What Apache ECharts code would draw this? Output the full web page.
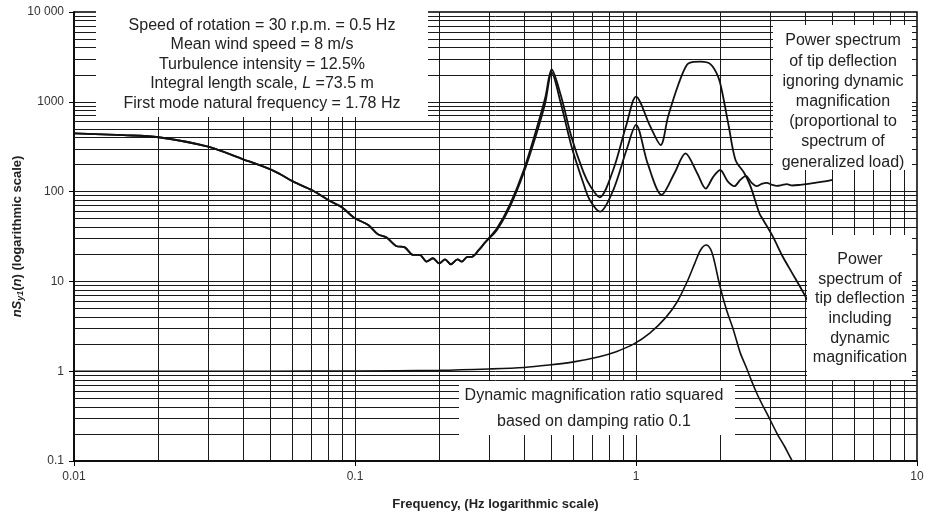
<!DOCTYPE html>
<html><head><meta charset="utf-8">
<script src="https://cdn.jsdelivr.net/npm/echarts@6/dist/echarts.min.js"></script>
<style>html,body{margin:0;padding:0;background:#fff}#c{width:927px;height:517px}</style>
</head><body><div id="c"></div>
<script>
// ---- data ----
const ignoringFreq = [0.01,0.015,0.02,0.03,0.04,0.05,0.054,0.0603,0.0702,0.0803,0.0898,0.1,0.1115,0.1206,0.1292,0.14,0.1504,0.1613,0.17,0.1797,0.1893,0.1995,0.2091,0.2194,0.2316,0.24,0.2512,0.2602,0.276,0.29,0.32,0.356,0.398,0.443,0.475,0.501,0.54,0.59,0.65,0.684,0.745,0.83,0.925,1.0,1.1,1.2336,1.37,1.5,1.65,1.77,1.88,1.993,2.12,2.24,2.35,2.46,2.58,2.69,2.8,2.92,3.05,3.17,3.3,3.44,3.6,3.84,4.1,4.38,4.7,5.0];
const ignoringVal = [446,425,403,316,229,177,157,129,104,80.6,66.8,50.4,42.5,33.4,31.0,24.8,23.9,19.7,19.7,16.6,18.1,15.9,17.6,15.5,17.6,16.6,18.8,18.8,22.4,27,37.4,67.9,160,446,962,2120,962,316,123,81,59.7,104,290,552,206,92,160,267,161,108,145,174,130,115,135,150,125,115,122,125,119,116,118,121,117,119,122,126,130,135];

const includingFreq = [0.01,0.015,0.02,0.03,0.04,0.05,0.054,0.0603,0.0702,0.0803,0.0898,0.1,0.1115,0.1206,0.1292,0.14,0.1504,0.1613,0.17,0.1797,0.1893,0.1995,0.2091,0.2194,0.2316,0.24,0.2512,0.2602,0.276,0.29,0.32,0.356,0.398,0.443,0.475,0.501,0.54,0.59,0.65,0.69,0.742,0.83,0.925,1.0,1.125,1.2236,1.3,1.42,1.5165,1.6,1.7,1.84,1.96,2.03,2.14,2.26,2.43,2.56,2.75,2.84,3.07,3.33,3.6,3.95,4.3];
const includingVal = [446,425,403,316,229,177,157,129,104,80.6,66.8,50.4,42.5,33.4,31.0,24.8,23.9,19.7,19.7,16.6,18.1,15.9,17.6,15.5,17.6,16.6,18.8,18.8,22.4,27,39,72,172,505,1100,2290,1180,400,165,113,86.3,175,560,1140,528,330,682,1608,2570,2780,2800,2630,1905,1245,528,225,160,113,57,48,31.5,18.8,12.3,7.4,4.5];

const dmfFreq = [0.01,0.05,0.1,0.2,0.3,0.4,0.49,0.6,0.74,0.85,0.98,1.12,1.28,1.4,1.52,1.62,1.7,1.78,1.84,1.89,1.99,2.1,2.22,2.35,2.47,2.6,2.75,2.95,3.17,3.38,3.58,3.7];
const dmfVal = [1.0,1.0,1.006,1.025,1.06,1.1,1.17,1.27,1.45,1.65,2.0,2.65,4.0,5.9,9.9,16,22.5,25.4,23,18,8.8,4.8,2.9,1.6,1.1,0.73,0.49,0.32,0.205,0.145,0.103,0.09];

const xTickLabels = ['0.01','0.1','1','10'];
const yTickLabels = ['0.1','1','10','100','1000','10 000'];

// grid line values (1..9 x each decade)
function decadeValues(minExp, maxExp){
  const out=[];
  for(let d=minExp; d<maxExp; d++){
    for(let k=1;k<=9;k++){ out.push(Number((k*Math.pow(10,d)).toPrecision(3))); }
  }
  return out;
}
const gridXValues = decadeValues(-2,1).filter(v=>v>0.01);
const gridYValues = decadeValues(-1,4).filter(v=>v>0.1);

function pairs(fs, vs){ return fs.map((f,i)=>[f, vs[i]]); }
function fmt(v){ return +(+v).toPrecision(6); }

const FONT = '"Liberation Sans", Arial, sans-serif';
const chart = echarts.init(document.getElementById('c'), null, {renderer:'canvas'});

const lineBase = {type:'line', symbol:'none', smooth:0.3, lineStyle:{color:'#111', width:1.8}, z:5, animation:false};

function textBox(x, y, w, h, lines, cx, y0, dy){
  const children = [{type:'rect', z:100, zlevel:0, shape:{x:x, y:y, width:w, height:h}, style:{fill:'#fff'}}];
  lines.forEach((t,i)=>{
    children.push({type:'text', z:101, style:{text:t.text||t, rich:t.rich, x:cx, y:y0+i*dy, align:'center', verticalAlign:'middle', font:'16px '+FONT, fill:'#222'}});
  });
  return {type:'group', z:100, children};
}
const richPlain = {a:{fontSize:16, fontFamily:FONT, color:'#222'}, i:{fontSize:16, fontFamily:FONT, fontStyle:'italic', color:'#222'}};

chart.setOption({
  animation:false,
  backgroundColor:'#fff',
  grid:{left:74, right:10, top:12, bottom:56, containLabel:false, outerBoundsMode:'none', show:true, borderColor:'#000', borderWidth:1.5, backgroundColor:'transparent'},
  xAxis:{
    type:'log', logBase:10, min:0.01, max:10,
    name:'Frequency, (Hz logarithmic scale)', nameLocation:'middle', nameGap:37, nameMoveOverlap:false,
    nameTextStyle:{fontFamily:FONT, fontSize:13, fontWeight:'bold', color:'#222'},
    axisLine:{show:true, lineStyle:{color:'#000', width:1.5}},
    axisTick:{show:true, length:5, lineStyle:{color:'#000'}},
    splitLine:{show:false}, minorTick:{show:false},
    axisLabel:{fontFamily:FONT, fontSize:12, color:'#333', margin:10,
      formatter:(v)=>String(fmt(v))}
  },
  yAxis:{
    type:'log', logBase:10, min:0.1, max:10000,
    name:'{i|nS}{sub|y1}{n|(}{i|n}{n|) (logarithmic scale)}', nameLocation:'middle', nameGap:49, nameRotate:90, nameMoveOverlap:false,
    nameTextStyle:{rich:{
      i:{fontFamily:FONT, fontSize:13, fontWeight:'bold', fontStyle:'italic', color:'#222', lineHeight:16},
      n:{fontFamily:FONT, fontSize:13, fontWeight:'bold', color:'#222', lineHeight:16},
      sub:{fontFamily:FONT, fontSize:9, fontWeight:'bold', fontStyle:'italic', color:'#222', lineHeight:9, verticalAlign:'bottom'}
    }},
    axisLine:{show:true, lineStyle:{color:'#000', width:1.5}},
    axisTick:{show:true, length:5, lineStyle:{color:'#000'}},
    splitLine:{show:false}, minorTick:{show:false},
    axisLabel:{fontFamily:FONT, fontSize:12, color:'#333', margin:10,
      formatter:(v)=>{const s=String(fmt(v)); return s==='10000'? yTickLabels[5] : s;}}
  },
  series:[
    {type:'line', data:[[0.01,1]], symbol:'none', lineStyle:{width:0}, z:1, silent:true,
      markLine:{silent:true, symbol:['none','none'], label:{show:false}, animation:false,
        lineStyle:{color:'#1a1a1a', width:1, type:'solid'},
        emphasis:{disabled:true},
        data: gridXValues.map(v=>({xAxis:v})).concat(gridYValues.map(v=>({yAxis:v})))
      }},
    Object.assign({}, lineBase, {name:'ignoring', data:pairs(ignoringFreq, ignoringVal)}),
    Object.assign({}, lineBase, {name:'including', data:pairs(includingFreq, includingVal)}),
    Object.assign({}, lineBase, {name:'dmf', data:pairs(dmfFreq, dmfVal), lineStyle:{color:'#111', width:1.6}})
  ],
  graphic:{elements:[
    textBox(96, 10, 332, 107, [
      'Speed of rotation = 30 r.p.m. = 0.5 Hz',
      'Mean wind speed = 8 m/s',
      'Turbulence intensity = 12.5%',
      {text:'{a|Integral length scale, }{i|L}{a| =73.5 m}', rich:richPlain},
      'First mode natural frequency = 1.78 Hz'
    ], 262, 25.5, 19.5),
    textBox(773, 25, 139, 145, [
      'Power spectrum','of tip deflection','ignoring dynamic','magnification','(proportional to','spectrum of','generalized load)'
    ], 843, 41, 20.2),
    textBox(807, 235, 105, 145, [
      'Power','spectrum of','tip deflection','including','dynamic','magnification'
    ], 860, 259.5, 19.7),
    textBox(459, 381, 276, 54, [
      'Dynamic magnification ratio squared','based on damping ratio 0.1'
    ], 594, 396, 26)
  ]}
});
</script>
</body></html>
